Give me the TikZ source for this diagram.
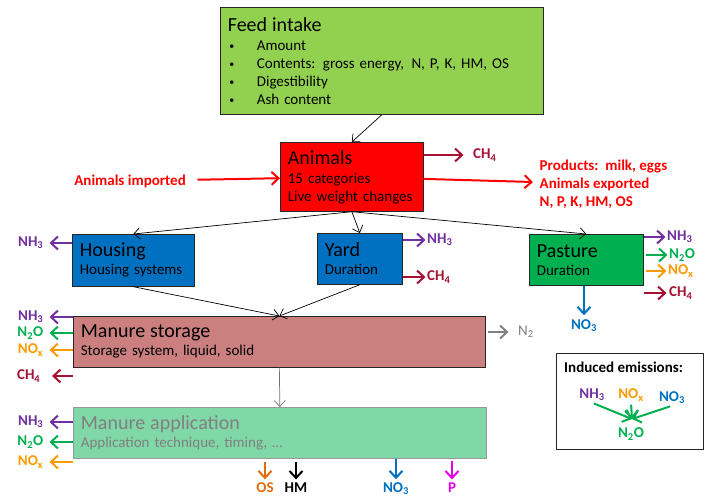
\documentclass[tikz,border=0pt]{standalone}
\usepackage{fontspec}
\setmainfont{Carlito}
\usetikzlibrary{arrows.meta}
\definecolor{feedgreen}{RGB}{146,208,80}
\definecolor{housblue}{RGB}{0,112,192}
\definecolor{pastgreen}{RGB}{0,176,80}
\definecolor{storrose}{RGB}{203,127,127}
\definecolor{applmint}{RGB}{128,215,167}
\definecolor{cnh}{RGB}{112,48,160}
\definecolor{cnto}{RGB}{0,176,80}
\definecolor{cnox}{RGB}{255,153,0}
\definecolor{cch}{RGB}{166,16,50}
\definecolor{cno}{RGB}{0,112,192}
\definecolor{cos}{RGB}{226,107,10}
\definecolor{cp}{RGB}{230,0,230}
\newcommand\ttl{\fontsize{20}{22}\selectfont}
\newcommand\bul{\makebox[29pt][l]{\hspace{1.5pt}\raisebox{1pt}{\fontsize{10}{10}\selectfont\textbullet}}}

\begin{document}
\begin{tikzpicture}[
  x=1pt,y=-1pt,
  every node/.style={font=\fontsize{15}{18}\selectfont},
  box/.style={draw=black!85,line width=0.7pt,anchor=north west,
              align=left,inner xsep=7.5pt,inner ysep=0pt},
  gas/.style={font=\bfseries\fontsize{15}{18}\selectfont,inner sep=1.5pt},
  flow/.style={line width=0.7pt,-{Straight Barb[length=6pt,width=11pt,line width=0.7pt]}},
  emit/.style={line width=2pt,-{Straight Barb[length=7pt,width=13pt,line width=2pt]}}
]
\useasboundingbox (0,0) rectangle (710,499);

% ---- Boxes ----
\node[box,fill=feedgreen,text width=308pt,minimum height=107pt] (feed) at (220,7)
  {{\ttl Feed intake}\\[1pt]
   \bul Amount\\
   \bul Contents: gross energy,\, N, P, K, HM, OS\\
   \bul Digestibility\\
   \bul Ash content};
\node[box,fill=red,text width=128pt,minimum height=69pt] (animals) at (280,142)
  {{\ttl Animals}\\[1pt] 15 categories\\ Live weight changes};
\node[box,fill=housblue,text width=107pt,minimum height=52pt] (housing) at (72,234)
  {{\ttl Housing}\\ Housing systems};
\node[box,fill=housblue,text width=70pt,minimum height=51pt] (yard) at (317,233)
  {{\ttl Yard}\\ Duration};
\node[box,fill=pastgreen,text width=99pt,minimum height=51pt] (pasture) at (529,234)
  {{\ttl Pasture}\\ Duration};
\node[box,fill=storrose,text width=397pt,minimum height=51pt] (storage) at (73,316)
  {{\ttl Manure storage}\\ Storage system, liquid, solid};
\node[box,draw=black!40,fill=applmint,text=black!50,text width=398pt,minimum height=51pt] (appl) at (73,407)
  {{\ttl Manure application}\\ Application technique, timing, \dots};

% ---- Flows ----
\draw[flow] (feed.south) -- (animals.north);
\draw[flow] (animals.south) -- (housing.north);
\draw[flow] (animals.south) -- (yard.north);
\draw[flow] (animals.south) -- (pasture.north);
\draw[flow] (housing.south) -- (storage.north);
\draw[flow] (yard.south) -- (storage.north);
\draw[flow,black!55] (storage.south) -- (appl.north);

% ---- Animals in and out ----
\node[gas,text=red,anchor=east] (imp) at (187.5,181) {Animals imported};
\node[gas,text=red,anchor=west,align=left] (exp) at (538,184)
  {Products:~~milk, eggs\\ Animals exported\\ N, P, K, HM, OS};
\node[gas,text=cch,anchor=west] (ach4) at (471.5,155) {CH\textsubscript{4}};
\draw[emit,red,shorten <=10pt] (imp) -- (animals);
\draw[emit,red,shorten >=5pt] (animals) -- (exp);
\draw[emit,cch,shorten >=8pt] (animals.east |- ach4) -- (ach4);

% ---- Housing, yard, pasture ----
\node[gas,text=cnh,anchor=east] (hnh3) at (45,243) {NH\textsubscript{3}};
\draw[emit,cnh,shorten >=4.5pt] (housing.west |- hnh3) -- (hnh3);

\node[gas,text=cnh,anchor=west] (ynh3) at (425.5,240) {NH\textsubscript{3}};
\node[gas,text=cch,anchor=west] (ych4) at (425.5,277) {CH\textsubscript{4}};
\draw[emit,cnh] (yard.east |- ynh3) -- (ynh3);
\draw[emit,cch] (yard.east |- ych4) -- (ych4);

\node[gas,text=cnh,anchor=west] (pnh3) at (665.5,237) {NH\textsubscript{3}};
\node[gas,text=cnto,anchor=west] (pn2o) at (667.5,255) {N\textsubscript{2}O};
\node[gas,text=cnox,anchor=west] (pnox) at (666.5,271) {NO\textsubscript{x}};
\node[gas,text=cch,anchor=west] (pch4) at (667.5,293) {CH\textsubscript{4}};
\node[gas,text=cno] (pno3) at (584,326) {NO\textsubscript{3}};
\draw[emit,cnh] (pasture.east |- pnh3) -- (pnh3);
\draw[emit,cnto,shorten <=2pt] (pasture.east |- pn2o) -- (pn2o);
\draw[emit,cnox,shorten <=2pt] (pasture.east |- pnox) -- (pnox);
\draw[emit,cch,shorten >=1pt] (pasture.east |- pch4) -- (pch4);
\draw[emit,cno,shorten >=3pt] (pno3 |- pasture.south) -- (pno3);

% ---- Manure storage ----
\node[gas,text=cnh,anchor=east] (snh3) at (45,317) {NH\textsubscript{3}};
\node[gas,text=cnto,anchor=east] (sn2o) at (45,333) {N\textsubscript{2}O};
\node[gas,text=cnox,anchor=east] (snox) at (45,350) {NO\textsubscript{x}};
\node[gas,text=cch,anchor=east] (sch4) at (42,376) {CH\textsubscript{4}};
\node[gas,font=\fontsize{15}{18}\selectfont,text=black!50,anchor=west] (sn2) at (516.5,332) {N\textsubscript{2}};
\draw[emit,cnh,shorten >=4.5pt] (storage.west |- snh3) -- (snh3);
\draw[emit,cnto,shorten >=4.5pt] (storage.west |- sn2o) -- (sn2o);
\draw[emit,cnox,shorten >=4.5pt] (storage.west |- snox) -- (snox);
\draw[emit,cch,shorten >=10pt] (storage.west |- sch4) -- (sch4);
\draw[emit,black!50,shorten <=2pt,shorten >=8pt] (storage.east |- sn2) -- (sn2);

% ---- Manure application ----
\node[gas,text=cnh,anchor=east] (anh3) at (45,422) {NH\textsubscript{3}};
\node[gas,text=cnto,anchor=east] (an2o) at (45,442) {N\textsubscript{2}O};
\node[gas,text=cnox,anchor=east] (anox) at (45,462) {NO\textsubscript{x}};
\draw[emit,cnh,shorten >=4.5pt] (appl.west |- anh3) -- (anh3);
\draw[emit,cnto,shorten >=4.5pt] (appl.west |- an2o) -- (an2o);
\draw[emit,cnox,shorten >=4.5pt] (appl.west |- anox) -- (anox);

\node[gas,text=cos] (aos) at (265,488) {OS};
\node[gas] (ahm) at (296,488) {HM};
\node[gas,text=cno] (ano3) at (396,489) {NO\textsubscript{3}};
\node[gas,text=cp] (ap) at (452,488) {P};
\draw[emit,cos,shorten <=3pt,shorten >=2pt] (aos |- appl.south) -- (aos);
\draw[emit,black,shorten <=3pt,shorten >=2pt] (ahm |- appl.south) -- (ahm);
\draw[emit,cno,shorten >=2pt] (ano3 |- appl.south) -- (ano3);
\draw[emit,cp,shorten <=2pt,shorten >=2pt] (ap |- appl.south) -- (ap);

% ---- Induced emissions ----
\node[draw=black!85,line width=0.7pt,anchor=north west,
      minimum width=147pt,minimum height=96pt] (ind) at (556,353) {};
\node[gas,anchor=west] (indt) at (562.5,367) {Induced emissions:};
\node[gas,text=cnh] (inh3) at (592,395) {NH\textsubscript{3}};
\node[gas,text=cnox] (inox) at (631,395) {NO\textsubscript{x}};
\node[gas,text=cno] (ino3) at (672,398) {NO\textsubscript{3}};
\node[gas,text=cnto] (in2o) at (631,434) {N\textsubscript{2}O};
\coordinate (imeet) at (632,419);
\draw[emit,cnto,shorten <=2pt] (inh3.south) -- (imeet);
\draw[emit,cnto,shorten <=2pt] (inox.south) -- (imeet);
\draw[emit,cnto,shorten <=2pt] (ino3.south) -- (imeet);

\end{tikzpicture}
\end{document}
